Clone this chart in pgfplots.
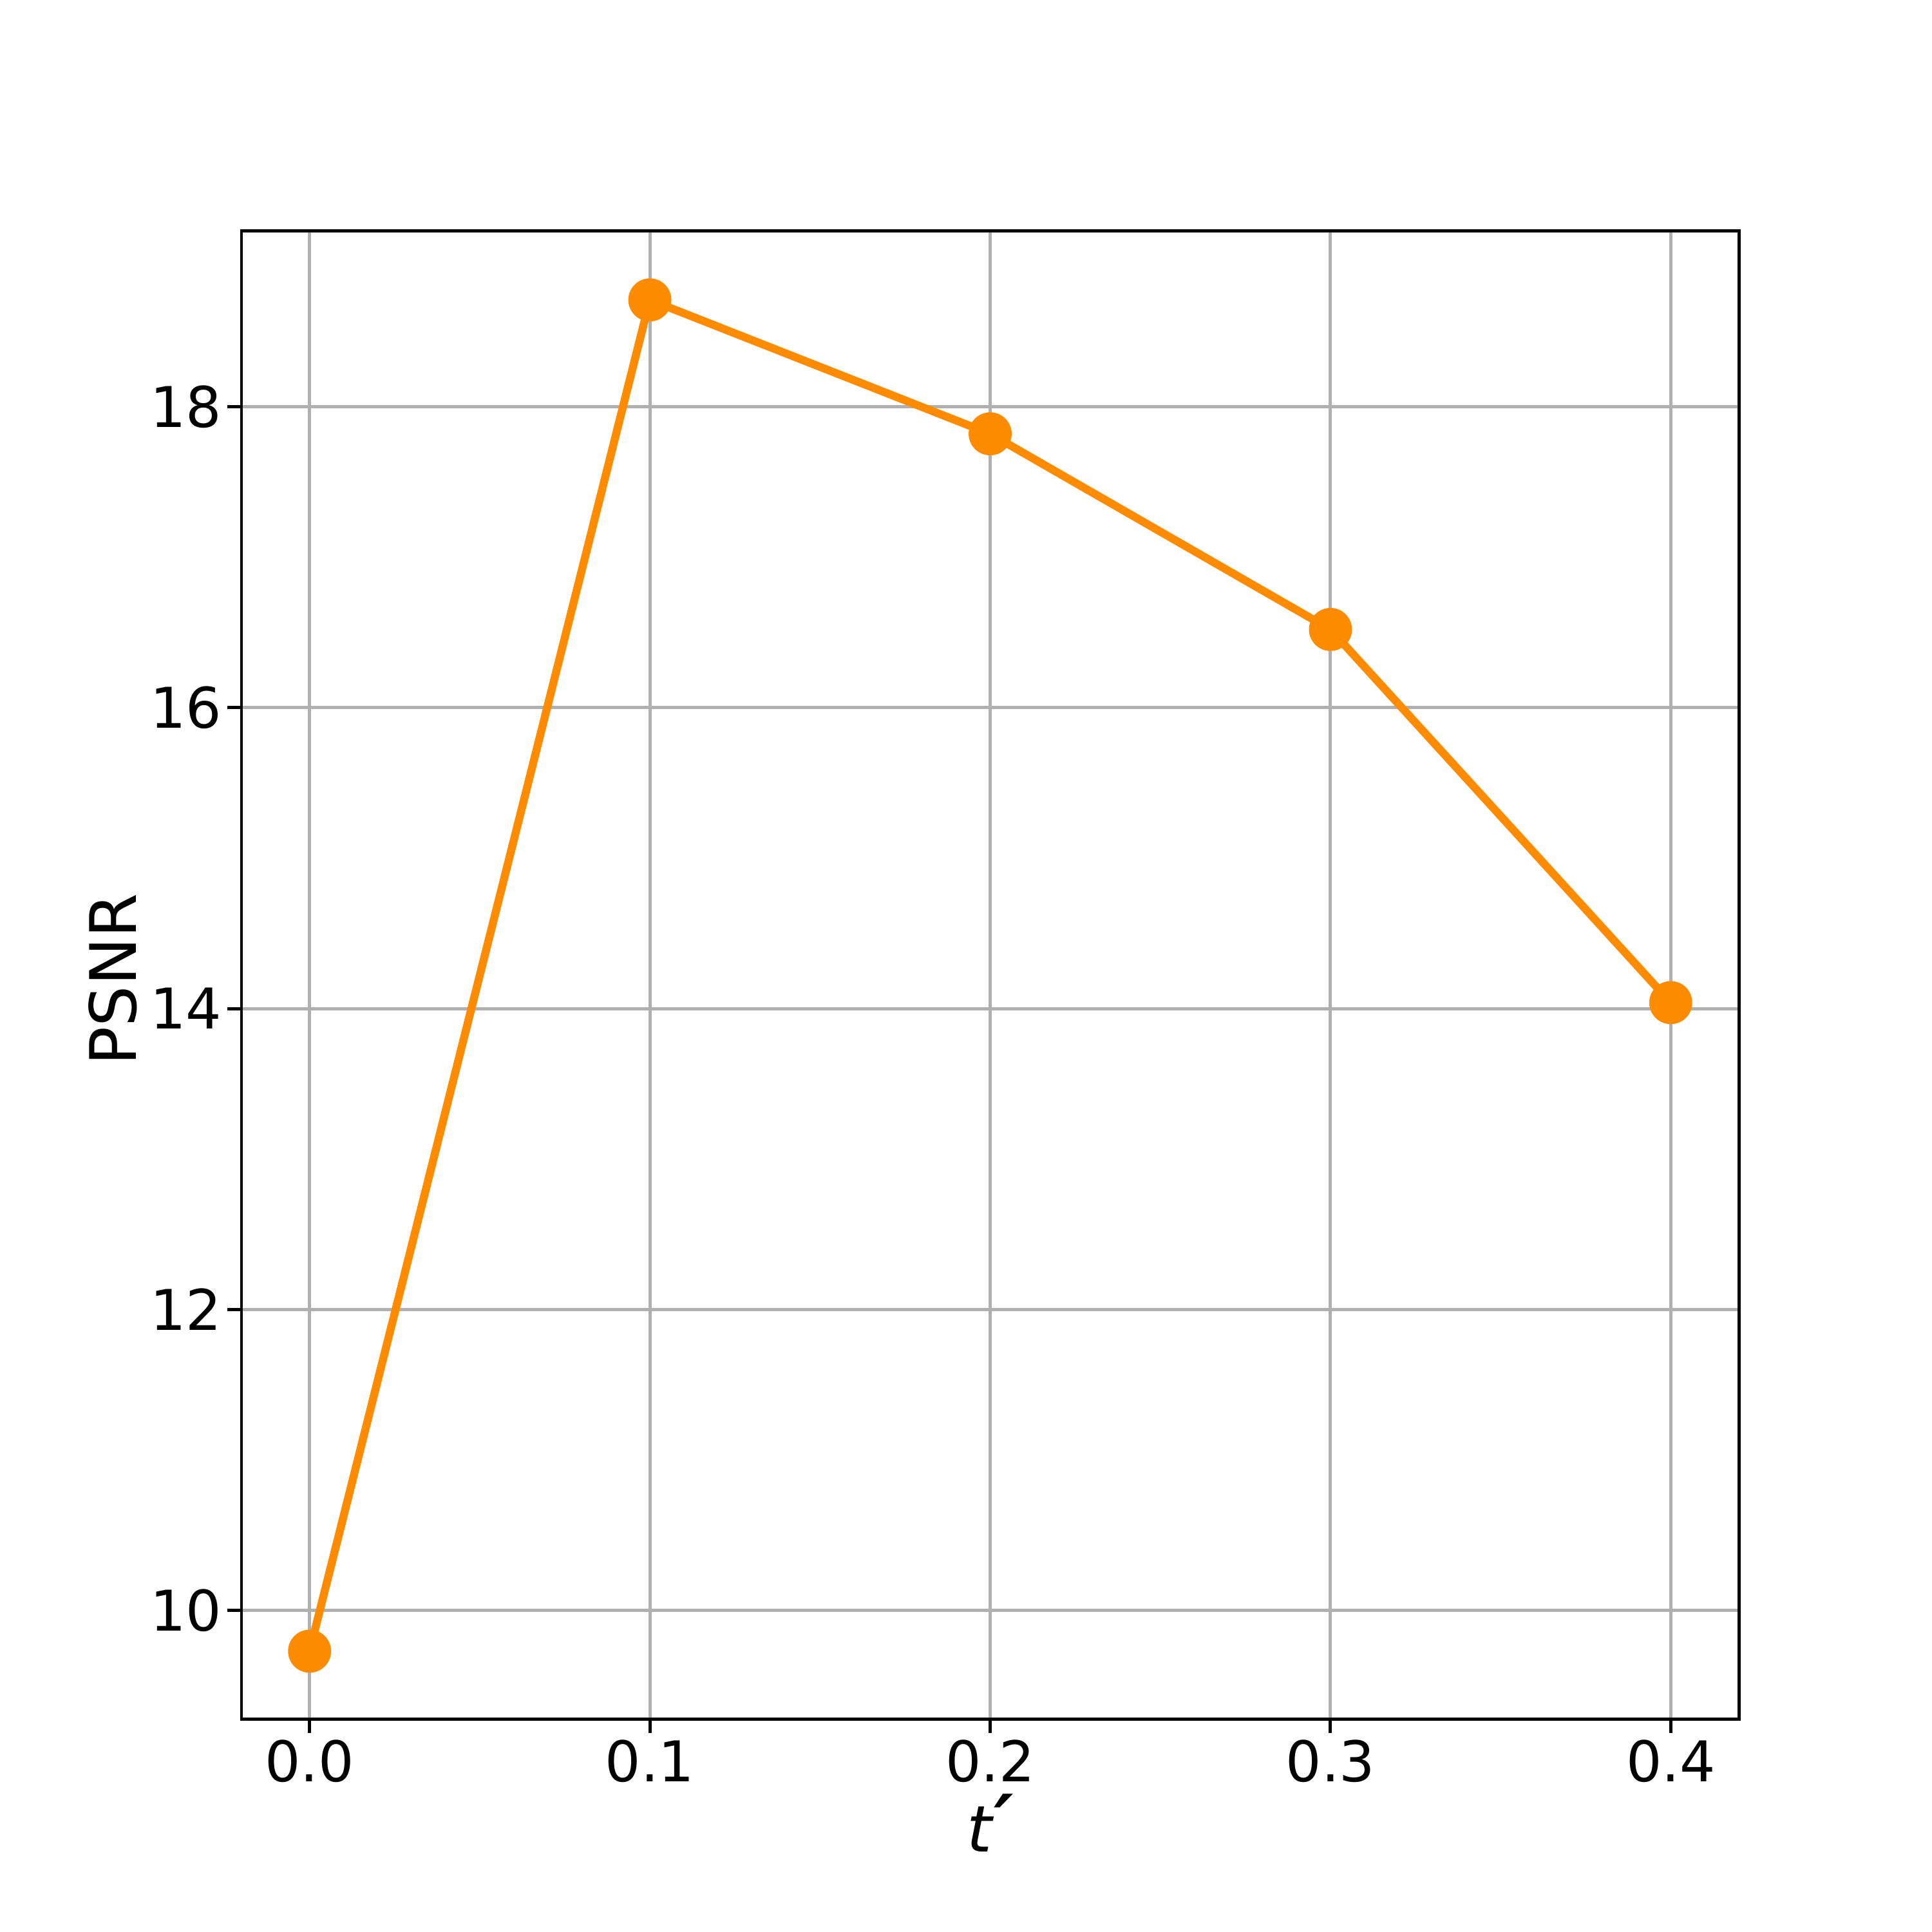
\documentclass[border=0pt]{standalone}
\usepackage{fontspec}
\setmainfont{DejaVu Sans}
\usepackage{pgfplots}
\pgfplotsset{compat=1.18}
\definecolor{orangeplot}{HTML}{FF8C00}
\definecolor{gridgray}{HTML}{B0B0B0}

\begin{document}
\begin{tikzpicture}
\path[use as bounding box] (0,0) rectangle (10in,10in);
\begin{axis}[
at={(1.25in,1.103in)},anchor=south west,
scale only axis,width=7.75in,height=7.703in,
font=\fontsize{21}{25}\selectfont,
/pgf/number format/assume math mode=true,
xmin=-0.02,xmax=0.42,ymin=9.28,ymax=19.17,
xtick={0,0.1,0.2,0.3,0.4},xticklabels={0.0,0.1,0.2,0.3,0.4},
ytick={10,12,14,16,18},yticklabels={10,12,14,16,18},
grid=major,grid style={gridgray,line width=1.2pt},
axis line style={black,line width=1.2pt},
tick align=outside,tick pos=left,
major tick length=5.25pt,tick style={black,line width=1.2pt},
xticklabel style={yshift=0.8pt},
yticklabel style={xshift=1.4pt},
xlabel={\textit{t}\raisebox{0.05em}[0pt][0pt]{\fontsize{28}{28}\selectfont\bfseries\itshape ′}},ylabel={PSNR},
label style={font=\fontsize{24}{29}\selectfont},
xlabel style={at={(axis description cs:0.5,-0.074)},anchor=center},
ylabel style={at={(axis description cs:-0.086,0.497)},anchor=center,rotate=0},
]
\addplot[orangeplot,line width=3pt,mark=*,mark size=7.8pt,mark options={solid,fill=orangeplot,draw=orangeplot,line width=0.5pt}]
coordinates {(0.0,9.73) (0.1,18.71) (0.2,17.82) (0.3,16.52) (0.4,14.04)};
\end{axis}
\end{tikzpicture}
\end{document}
